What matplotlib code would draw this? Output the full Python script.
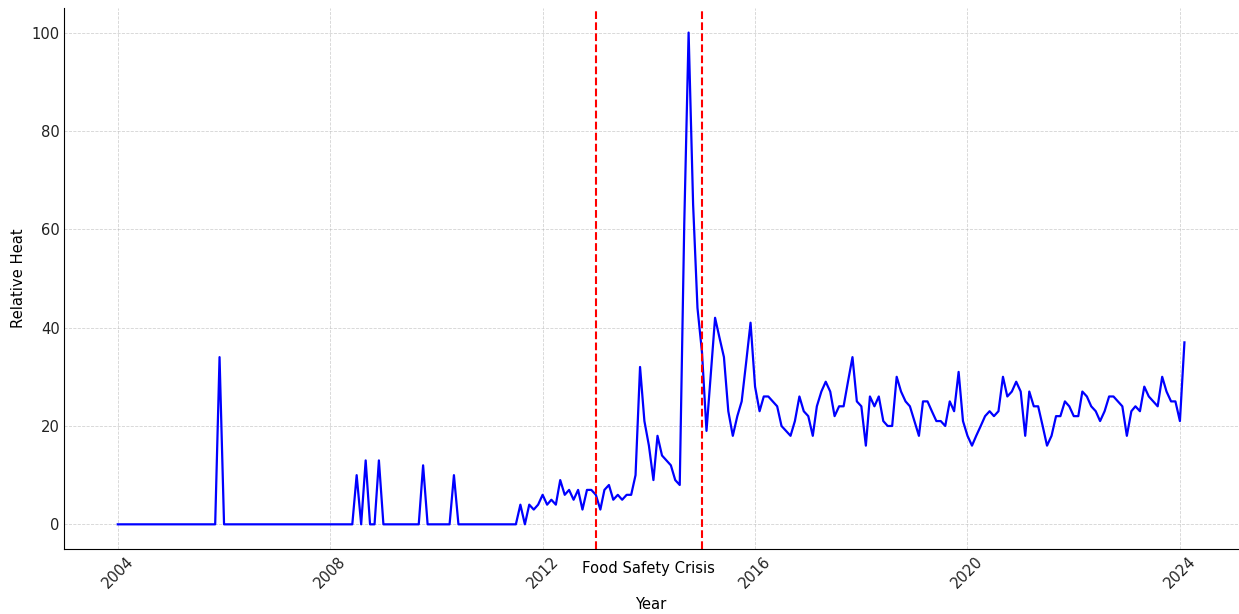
import numpy as np
import pandas as pd
import matplotlib
matplotlib.use('Agg')
import matplotlib.pyplot as plt

# monthly relative search heat, 2004-01 .. 2024-02
dates = pd.date_range('2004-01-01', periods=242, freq='MS')
heat = ([0] * 23 + [34] + [0] * 30 +
        [10, 0, 13, 0, 0, 13] + [0] * 9 + [12] + [0] * 6 + [10] + [0] * 14 +
        [4, 0, 4, 3, 4, 6, 4, 5, 4, 9, 6, 7, 5, 7, 3, 7, 7, 6, 3, 7, 8, 5, 6, 5, 6, 6,
         10, 32, 21, 16, 9, 18, 14, 13, 12, 9, 8, 61, 100, 65, 44, 35, 19, 30, 42, 38,
         34, 23, 18, 22, 25, 33, 41, 28, 23, 26, 26, 25, 24, 20, 19, 18, 21, 26, 23, 22,
         18, 24, 27, 29, 27, 22, 24, 24, 29, 34, 25, 24, 16, 26, 24, 26, 21, 20, 20, 30,
         27, 25, 24, 21, 18, 25, 25, 23, 21, 21, 20, 25, 23, 31, 21, 18, 16, 18, 20, 22,
         23, 22, 23, 30, 26, 27, 29, 27, 18, 27, 24, 24, 20, 16, 18, 22, 22, 25, 24, 22,
         22, 27, 26, 24, 23, 21, 23, 26, 26, 25, 24, 18, 23, 24, 23, 28, 26, 25, 24, 30,
         27, 25, 25, 21, 37])

crisis_lines = ['2013-01-01', '2015-01-01']
crisis_label = 'Food Safety Crisis'
crisis_label_x = '2014-01-01'

fs = 10.6
fig = plt.figure(figsize=(12.39, 6.14), dpi=100)
ax = fig.add_subplot(111)
fig.subplots_adjust(left=0.052, right=0.999, top=0.987, bottom=0.106)

ax.plot(dates, heat, color='blue', linewidth=1.6)
for d in crisis_lines:
    ax.axvline(pd.Timestamp(d), color='red', linestyle='--', linewidth=1.5)
ax.text(pd.Timestamp(crisis_label_x), -9, crisis_label, ha='center', va='center', fontsize=fs)

ax.set_xlabel('Year', fontsize=fs)
ax.set_ylabel('Relative Heat', fontsize=fs)
plt.xticks(rotation=45)
ax.tick_params(length=0, labelsize=fs, colors='#222222')
ax.grid(True, linestyle='--', color='#b0b0b0', alpha=0.55, linewidth=0.6)
for s in ['top', 'right']:
    ax.spines[s].set_visible(False)

plt.savefig('out.png', dpi=100)
